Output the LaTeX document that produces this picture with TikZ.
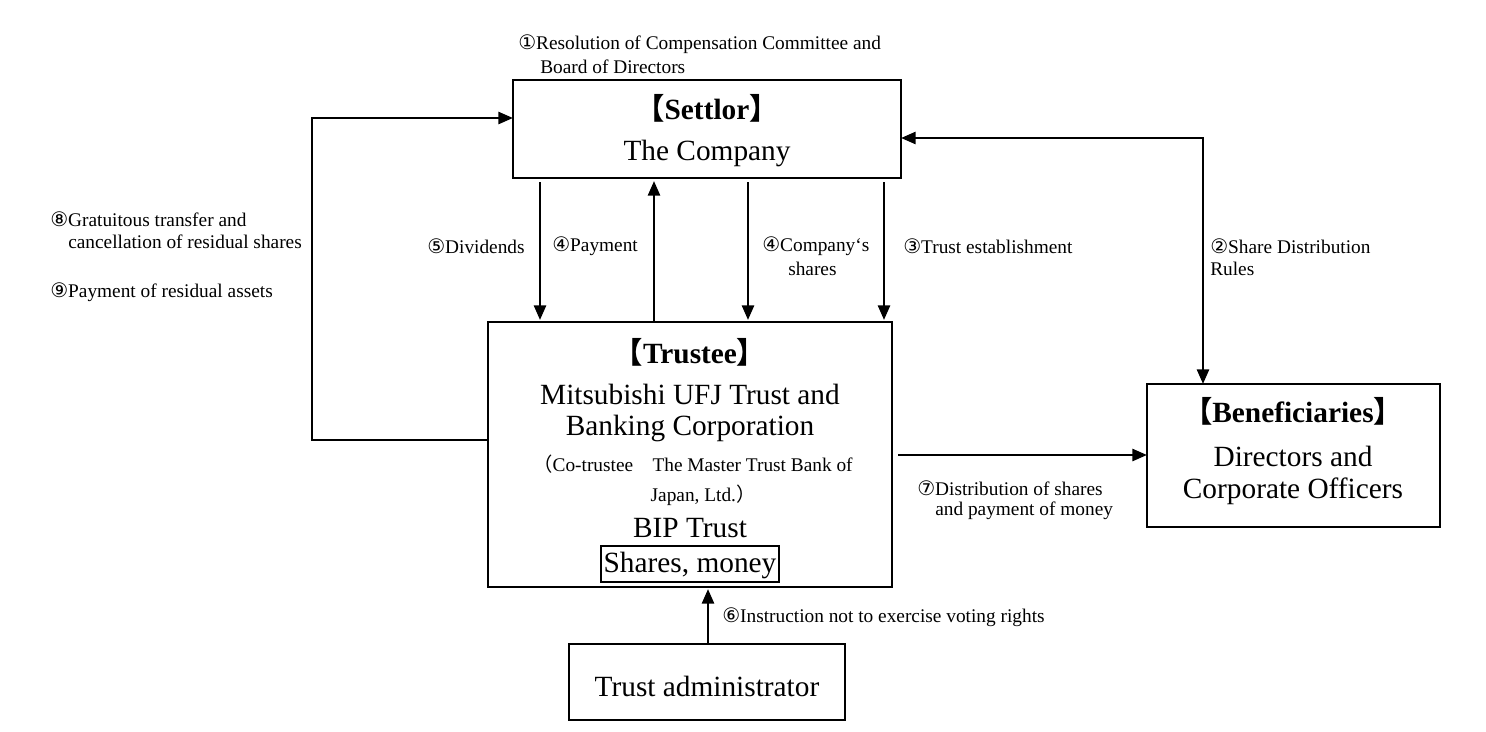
\documentclass[tikz,border=0pt]{standalone}
\usepackage{fontspec}
\setmainfont{Liberation Serif}
\newfontfamily\sym{DejaVu Sans}
\newfontfamily\cjk{Noto Sans CJK JP}
\usetikzlibrary{arrows.meta}
\newcommand{\cn}[1]{{\sym\fontsize{15}{15}\selectfont #1}}
\newcommand{\lb}{{\cjk 【}}
\newcommand{\rb}{{\cjk 】}}
\begin{document}
\begin{tikzpicture}[x=0.75pt,y=-0.75pt,
  box/.style={draw,line width=1.3pt},
  arr/.style={line width=2pt,-{Triangle[length=11pt,width=9pt]}},
  lab/.style={font=\fontsize{14.5}{17}\selectfont,anchor=west,inner sep=0,align=left},
  big/.style={font=\fontsize{22}{24}\selectfont,inner sep=0}]
\useasboundingbox (0,0) rectangle (1486,732);
\draw[box] (513,80) rectangle (901,178);
\draw[box] (488,322) rectangle (892,587);
\draw[box] (1147,384) rectangle (1440,527);
\draw[box] (569,644) rectangle (845,720);
\draw[line width=1pt] (601,546) rectangle (779,582);
\coordinate (sL) at (513,118);
\coordinate (tL) at (488,440);
\coordinate (sR) at (901,138);
\coordinate (bT) at (1203,384);
% text
\node[big,font=\bfseries\fontsize{22}{24}\selectfont] (s1) at (707,108) {\lb Settlor\rb};
\node[big] (s2) at (707,153) {The Company};
\node[big,font=\bfseries\fontsize{22}{24}\selectfont] (t1) at (690,352) {\lb Trustee\rb};
\node[big] (t2) at (690,394) {Mitsubishi UFJ Trust and};
\node[big] (t3) at (690,428) {Banking Corporation};
\node[font=\fontsize{14.5}{17}\selectfont,inner sep=0] (t4) at (693,464) {{\cjk （}Co-trustee\quad The Master Trust Bank of};
\node[font=\fontsize{14.5}{17}\selectfont,inner sep=0] (t5) at (703,495) {Japan, Ltd.{\cjk ）}};
\node[big] (t6) at (690,528) {BIP Trust};
\node[big] (t7) at (690,565) {Shares, money};
\node[big,font=\bfseries\fontsize{22}{24}\selectfont] (b1) at (1293,411) {\lb Beneficiaries\rb};
\node[big] (b2) at (1293,456) {Directors and};
\node[big] (b3) at (1293,491) {Corporate Officers};
\node[big] (a1) at (707,686) {Trust administrator};
% arrows
\draw[arr] (tL) -- (312,440) -- (312,118) -- (sL);
\draw[arr] (540,182) -- (540,320);
\draw[arr] (748,182) -- (748,320);
\draw[arr] (884,182) -- (884,320);
\draw[arr] (654,322) -- (654,181);
\draw[line width=2pt,{Triangle[length=11pt,width=9pt]}-{Triangle[length=11pt,width=9pt]}] (sR) -- (1203,138) -- (bT);
\draw[arr] (898,455) -- (1147,455);
\draw[arr] (708,644) -- (708,589);
% labels
\node[lab] (l1) at (518,44) {\cn{①}Resolution of Compensation Committee and};
\node[lab] (l1b) at (540,67) {Board of Directors};
\node[lab] (l8) at (50,219) {\cn{⑧}Gratuitous transfer and};
\node[lab] (l8b) at (68,242) {cancellation of residual shares};
\node[lab] (l9) at (50,292) {\cn{⑨}Payment of residual assets};
\node[lab] (l5) at (427,246) {\cn{⑤}Dividends};
\node[lab] (l4) at (552,246) {\cn{④}Payment};
\node[lab] (l4b) at (762,246) {\cn{④}Company`s};
\node[lab] (l4c) at (788,269) {shares};
\node[lab] (l3) at (903,246) {\cn{③}Trust establishment};
\node[lab] (l2) at (1210,246) {\cn{②}Share Distribution};
\node[lab] (l2b) at (1210,269) {Rules};
\node[lab] (l7) at (917,488) {\cn{⑦}Distribution of shares};
\node[lab] (l7b) at (935,511) {and payment of money};
\node[lab] (l6) at (722,617) {\cn{⑥}Instruction not to exercise voting rights};
\end{tikzpicture}
\end{document}
